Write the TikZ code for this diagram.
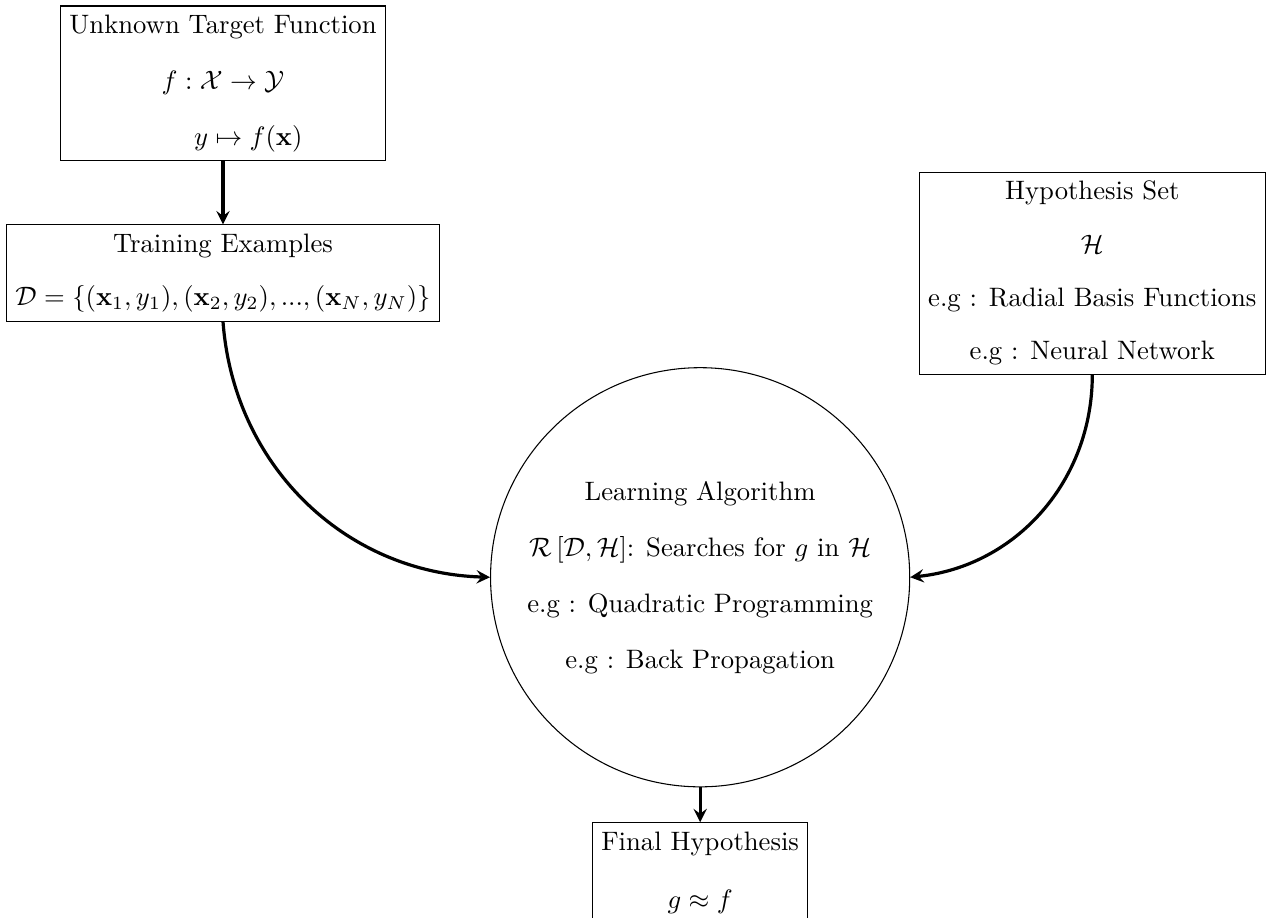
\documentclass[tikz,border=0pt]{standalone}
\usepackage{amsmath}
\usetikzlibrary{positioning}

\begin{document}
\begin{tikzpicture}[
	box/.style = {
		rectangle, draw, thin,
		align=center
	},
	algo/.style = {
		circle, draw, thin,
		align=center,
		minimum size=5.46cm
	},
	flow/.style = {
		-stealth, very thick
	}
]
	\useasboundingbox (0,0) rectangle (16.69,-12.09);
	\node [box] (target) at (2.94,-1.10) {Unknown Target Function\\[9pt]
		$f:\mathcal{X}\to\mathcal{Y}$\\[9pt]
		\hspace*{1.9em}$y\mapsto f(\mathbf{x})$};
	\node [box] (train) at (2.94,-3.60) {Training Examples\\[8pt]
		$\mathcal{D}=\{(\mathbf{x}_1,y_1),(\mathbf{x}_2,y_2),...,(\mathbf{x}_N,y_N)\}$};
	\node [box] (hyp) at (14.40,-3.60) {Hypothesis Set\\[8pt]
		$\mathcal{H}$\\[8pt]
		e.g : Radial Basis Functions\\[8pt]
		e.g : Neural Network};
	\node [algo] (learn) at (9.23,-7.61) {Learning Algorithm\\[9pt]
		$\mathcal{R}\left[\mathcal{D},\mathcal{H}\right]$: Searches for $g$ in $\mathcal{H}$\\[9pt]
		e.g : Quadratic Programming\\[9pt]
		e.g : Back Propagation};
	\node [box, anchor=north] (final) at (9.23,-10.84) {Final Hypothesis\\[10pt]
		$g\approx f$};

	\draw [flow] (target) -- (train);
	\draw [flow] (train.south) to [bend right=42] (learn.west);
	\draw [flow] (hyp.south) to [bend left=42] (learn.east);
	\draw [flow] (learn) -- (final);
\end{tikzpicture}
\end{document}
